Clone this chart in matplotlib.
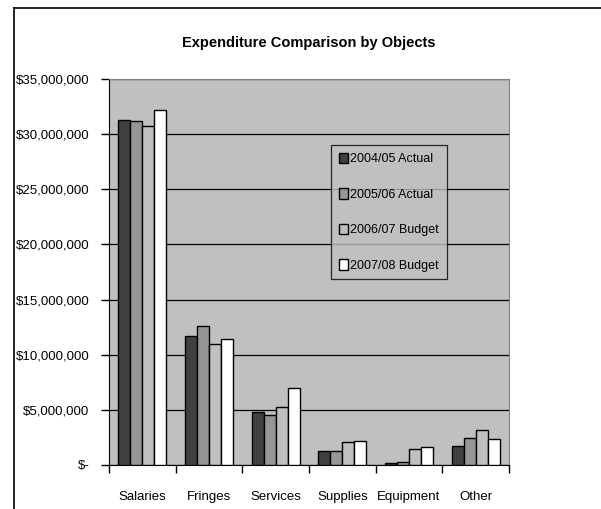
import matplotlib
matplotlib.use('Agg')
import numpy as np
from matplotlib import pyplot as plt
from matplotlib.lines import Line2D
from matplotlib.ticker import FuncFormatter, MultipleLocator

plt.rcParams['font.family'] = ['Liberation Sans', 'DejaVu Sans']

categories = ['Salaries', 'Fringes', 'Services', 'Supplies', 'Equipment', 'Other']
series = ['2004/05 Actual', '2005/06 Actual', '2006/07 Budget', '2007/08 Budget']
fy0405 = [31.3e6, 11.7e6, 4.8e6, 1.3e6, 0.15e6, 1.72e6]
fy0506 = [31.2e6, 12.6e6, 4.5e6, 1.3e6, 0.3e6, 2.48e6]
fy0607 = [30.7e6, 11.0e6, 5.25e6, 2.05e6, 1.45e6, 3.2e6]
fy0708 = [32.2e6, 11.4e6, 7.0e6, 2.18e6, 1.6e6, 2.33e6]
colors = ['#404040', '#969696', '#c0c0c0', '#ffffff']

fig = plt.figure(figsize=(6.01, 5.09), dpi=100)
ax = fig.add_axes([109 / 601, 44 / 509, 400 / 601, 386 / 509])
ax.set_facecolor('#c0c0c0')

x = np.arange(len(categories))
w = 0.18
for i, vals in enumerate([fy0405, fy0506, fy0607, fy0708]):
    ax.bar(x + (i - 1.5) * w, vals, w, color=colors[i], edgecolor='black',
           linewidth=1.0, label=series[i], zorder=3)

ax.set_xlim(-0.5, len(categories) - 0.5)
ax.set_ylim(0, 35e6)
ax.yaxis.set_major_locator(MultipleLocator(5e6))
ax.yaxis.set_major_formatter(FuncFormatter(lambda v, p: '$-' if v == 0 else '${:,.0f}'.format(v)))
ax.grid(axis='y', color='black', linewidth=0.9, zorder=1)

# ticks on category boundaries, names centred between them
ax.set_xticks(np.arange(-0.5, len(categories), 1.0))
ax.set_xticklabels([])
ax.set_xticks(x, minor=True)
ax.set_xticklabels(categories, minor=True)
ax.tick_params(axis='x', which='major', length=6, width=1, direction='out')
ax.tick_params(axis='x', which='minor', length=0, pad=19, labelsize=9.5)
ax.tick_params(axis='y', length=6, width=1, labelsize=9.5, pad=8)

for s in ['top', 'right']:
    ax.spines[s].set_color('#808080')
ax.spines['left'].set_color('black')
ax.spines['bottom'].set_color('black')

ax.set_title('Expenditure Comparison by Objects', fontsize=10.5, fontweight='bold', pad=23)

leg = ax.legend(loc='upper left', bbox_to_anchor=(0.555, 0.829), fontsize=9,
                frameon=True, fancybox=False, edgecolor='black', facecolor='#c0c0c0',
                handlelength=0.75, handleheight=0.9, handletextpad=0.2,
                labelspacing=1.85, borderpad=0.6, borderaxespad=0)
leg.get_frame().set_linewidth(0.9)

# outer chart border
fig.add_artist(Line2D([14 / 601, 14 / 601], [0, 1 - 8 / 509], color='black', linewidth=1.2))
fig.add_artist(Line2D([14 / 601, 1], [1 - 8 / 509, 1 - 8 / 509], color='black', linewidth=1.2))

fig.savefig('out.png', dpi=100)
